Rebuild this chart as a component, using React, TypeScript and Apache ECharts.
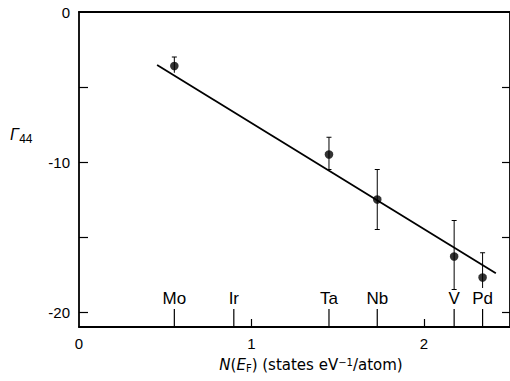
import React, { useEffect, useRef } from "react";
import * as echarts from "echarts";

// ---- data ----
const elements = ["Mo", "Ir", "Ta", "Nb", "V", "Pd"];
const elementDos = [0.553, 0.898, 1.45, 1.73, 2.176, 2.341];

const pointDos = [0.553, 1.45, 1.73, 2.176, 2.341];
const gamma44 = [-3.6, -9.5, -12.5, -16.3, -17.7];
const errHigh = [0.6, 1.15, 2.0, 2.4, 1.65];
const errLow = [0.45, 1.0, 2.0, 2.2, 0.7];
const lowerCap = [false, true, true, true, false];

const fitX = [0.453, 2.418];
const fitY = [-3.53, -17.42];

const xTickValues = [1, 2];
const xLabelValues = [0, 1, 2];
const yTickValues = [-20, -15, -10, -5];
const yLabelValues = [-20, -10, 0];

const FONT = "Liberation Sans";
const TITLE_FONT = "DejaVu Sans";

export default function App() {
  const ref = useRef<HTMLDivElement>(null);
  useEffect(() => {
    if (!ref.current) return;
    const chart = echarts.init(ref.current, null, { renderer: "svg" });
    const axisLineStyle = { color: "#000", width: 1.8 };
    const option: any = {
      animation: false,
      backgroundColor: "#fff",
      grid: { left: 79, top: 12, width: 433.75, height: 315, containLabel: false },
      xAxis: [
        {
          type: "value",
          position: "bottom",
          min: 0,
          max: 2.5,
          axisLine: { show: true, onZero: false, lineStyle: axisLineStyle },
          axisTick: { show: true, inside: true, length: 8, customValues: xTickValues, lineStyle: { color: "#000", width: 1.2 } },
          axisLabel: { show: true, customValues: xLabelValues, margin: 9, fontSize: 15, color: "#000", fontFamily: FONT },
          splitLine: { show: false },
        },
        {
          type: "value",
          position: "top",
          min: 0,
          max: 2.5,
          axisLine: { show: true, onZero: false, lineStyle: axisLineStyle },
          axisTick: { show: false },
          axisLabel: { show: false },
          splitLine: { show: false },
        },
      ],
      yAxis: [
        {
          type: "value",
          position: "left",
          min: -21,
          max: 0,
          axisLine: { show: true, onZero: false, lineStyle: axisLineStyle },
          axisTick: { show: true, inside: true, length: 9, customValues: yTickValues, lineStyle: { color: "#000", width: 1.2 } },
          axisLabel: { show: true, customValues: yLabelValues, margin: 9, fontSize: 15, color: "#000", fontFamily: FONT },
          splitLine: { show: false },
        },
        {
          type: "value",
          position: "right",
          min: -21,
          max: 0,
          axisLine: { show: true, onZero: false, lineStyle: axisLineStyle },
          axisTick: { show: true, inside: true, length: 8, customValues: yTickValues, lineStyle: { color: "#000", width: 1.2 } },
          axisLabel: { show: false },
          splitLine: { show: false },
        },
      ],
      series: [
        {
          type: "line",
          data: fitX.map((x, i) => [x, fitY[i]]),
          symbol: "none",
          lineStyle: { color: "#000", width: 1.8 },
          z: 3,
        },
        {
          type: "custom",
          clip: false,
          data: pointDos.map((x, i) => [x, gamma44[i], errLow[i], errHigh[i], lowerCap[i] ? 1 : 0]),
          renderItem: (params: any, api: any) => {
            const x = api.value(0);
            const y = api.value(1);
            const lo = api.value(2);
            const hi = api.value(3);
            const cap = api.value(4);
            const top = api.coord([x, y + hi]);
            const bot = api.coord([x, y - lo]);
            const style = { stroke: "#000", lineWidth: 1 };
            const children: any[] = [
              { type: "line", shape: { x1: top[0], y1: top[1], x2: bot[0], y2: bot[1] }, style },
              { type: "line", shape: { x1: top[0] - 2.5, y1: top[1], x2: top[0] + 2.5, y2: top[1] }, style },
            ];
            if (cap) {
              children.push({ type: "line", shape: { x1: bot[0] - 2.5, y1: bot[1], x2: bot[0] + 2.5, y2: bot[1] }, style });
            }
            return { type: "group", children };
          },
          z: 4,
        },
        {
          type: "scatter",
          data: pointDos.map((x, i) => [x, gamma44[i]]),
          symbol: "circle",
          symbolSize: 8.5,
          itemStyle: { color: "#000" },
          z: 5,
        },
        {
          type: "custom",
          clip: false,
          data: elementDos.map((x, i) => [x, i]),
          renderItem: (params: any, api: any) => {
            const x = api.value(0);
            const idx = api.value(1);
            const base = api.coord([x, -21]);
            return {
              type: "group",
              children: [
                { type: "line", shape: { x1: base[0], y1: base[1], x2: base[0], y2: base[1] - 18 }, style: { stroke: "#000", lineWidth: 1.2 } },
                {
                  type: "text",
                  x: base[0],
                  y: base[1] - 20,
                  style: {
                    text: elements[idx],
                    fill: "#000",
                    fontSize: 17,
                    fontFamily: FONT,
                    align: "center",
                    verticalAlign: "bottom",
                  },
                },
              ],
            };
          },
          z: 4,
        },
      ],
      graphic: [
        {
          type: "text",
          x: 311,
          y: 365,
          style: {
            text: "{i|N}{n|(}{i|E}{s|F}{n|) (states eV}{sup|−1}{n|/atom)}",
            align: "center",
            verticalAlign: "middle",
            rich: {
              i: { fontSize: 15, fontStyle: "italic", fontFamily: TITLE_FONT, fill: "#000" },
              n: { fontSize: 15, fontFamily: TITLE_FONT, fill: "#000" },
              s: { fontSize: 10, fontFamily: TITLE_FONT, fill: "#000", verticalAlign: "bottom", padding: [6, 0, 0, 0] },
              sup: { fontSize: 10, fontFamily: TITLE_FONT, fill: "#000", verticalAlign: "top", padding: [0, 0, 6, 0] },
            },
          },
        },
        {
          type: "text",
          x: 10,
          y: 124,
          style: {
            text: "{g|Γ}{s|44}",
            rich: {
              g: { fontSize: 16, fontStyle: "italic", fontFamily: FONT, fill: "#000" },
              s: { fontSize: 12, fontFamily: FONT, fill: "#000", verticalAlign: "bottom", padding: [9, 0, 0, 0] },
            },
          },
        },
      ],
    };
    chart.setOption(option);
    return () => chart.dispose();
  }, []);
  return <div ref={ref} style={{ position: "absolute", left: 0, top: 0, width: 510, height: 381 }} />;
}
